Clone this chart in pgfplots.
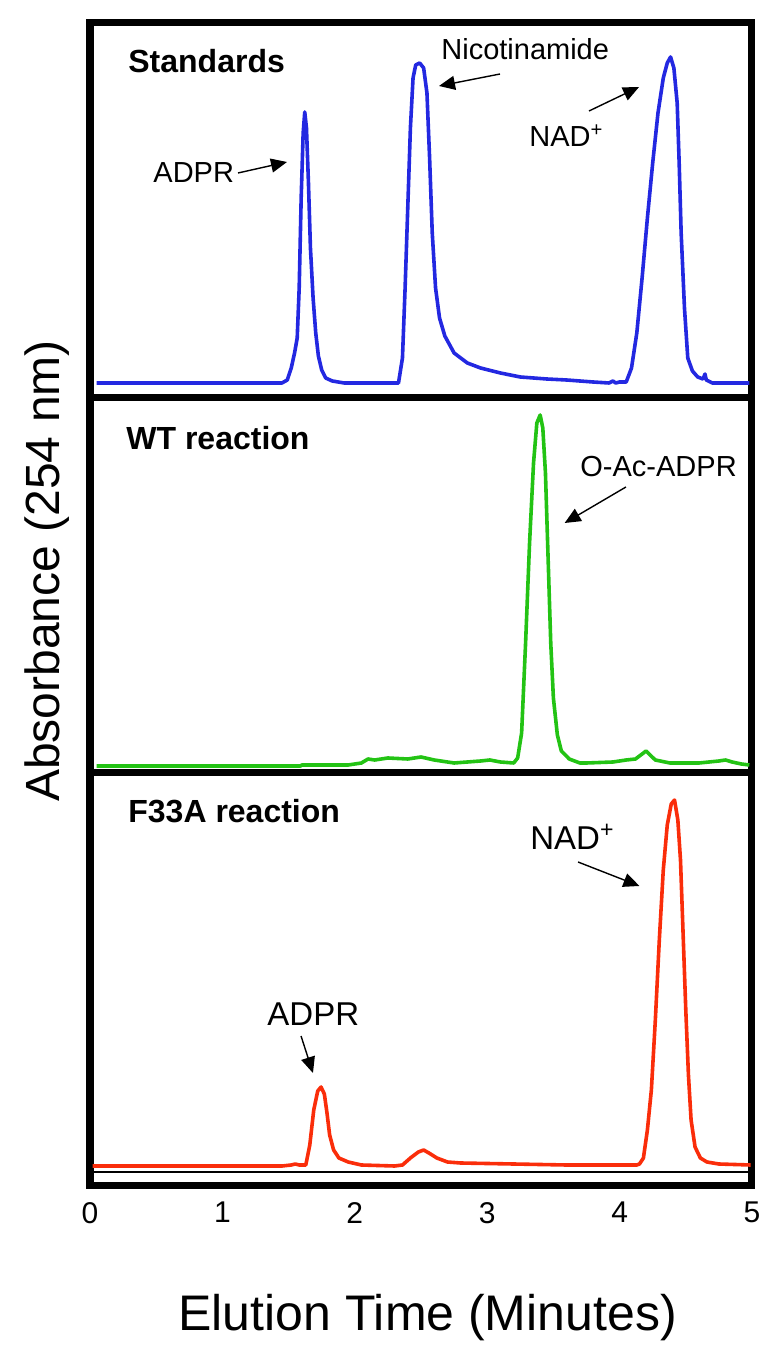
\documentclass[border=0pt]{standalone}
\usepackage{fontspec}
\setmainfont{Liberation Sans}
\usepackage{pgfplots}
\pgfplotsset{compat=1.18}
\usetikzlibrary{arrows.meta}
\definecolor{cblue}{RGB}{35,40,225}
\definecolor{cgreen}{RGB}{35,195,20}
\definecolor{cred}{RGB}{250,45,10}

\pgfplotsset{
  panel/.style={
    scale only axis, width=331pt,
    xmin=0, xmax=5, ymin=0,
    axis line style={line width=3.5pt},
    ytick=\empty, xtick=\empty,
    major tick length=0pt,
    clip=true,
  },
}
\tikzset{
  trace/.style={line width=1.8pt, line join=round},
  note/.style={font=\fontsize{14.5}{17}\selectfont, inner sep=0pt},
  ptitle/.style={font=\fontsize{16}{19}\selectfont\bfseries, inner sep=0pt},
  arr/.style={line width=0.7pt, -{Triangle[length=8pt,width=7pt]}},
}

\begin{document}
\begin{tikzpicture}
%% Standards
\begin{axis}[panel, at={(0,393.5pt)}, anchor=south west, height=187.5pt, ymax=375]
  \addplot[trace, cblue] coordinates {
    (0.05,15)(1.40,15)(1.45,15)(1.49,18)(1.52,30)(1.545,45)(1.565,60)(1.58,110)
    (1.595,200)(1.61,265)(1.622,286)(1.635,270)(1.65,215)(1.665,150)(1.685,100)
    (1.705,65)(1.725,42)(1.75,28)(1.78,20)(1.83,17)(1.92,15)
    (2.30,15)(2.33,15)(2.36,40)(2.38,110)(2.40,190)(2.42,270)(2.44,320)(2.46,333)
    (2.49,335)(2.52,330)(2.545,305)(2.565,240)(2.585,165)(2.61,110)(2.64,80)
    (2.68,62)(2.75,45)(2.85,35)(2.95,30)(3.10,25)(3.25,21)(3.45,19)(3.60,18)
    (3.80,16)(3.92,15)(3.95,17)(3.97,15)(4.00,16)
    (4.05,16)(4.09,30)(4.13,65)(4.17,120)(4.21,180)(4.25,235)(4.29,285)(4.33,320)
    (4.36,335)(4.385,341)(4.41,330)(4.435,295)(4.45,235)(4.465,165)(4.49,90)
    (4.515,40)(4.55,27)(4.59,21)(4.63,19)(4.645,24)(4.655,18)(4.70,15)(4.98,15)
  };
  \node[ptitle, anchor=base west] at (axis cs:0.287,325) {Standards};
  \node[note, anchor=base west] at (axis cs:2.651,338) {Nicotinamide};
  \draw[arr] (axis cs:3.097,324) -- (axis cs:2.636,312);
  \node[note, anchor=base west] at (axis cs:0.476,215) {ADPR};
  \draw[arr] (axis cs:1.118,225) -- (axis cs:1.488,236);
  \node[note, anchor=base west] at (axis cs:3.316,251) {NAD\textsuperscript{+}};
  \draw[arr] (axis cs:3.769,287) -- (axis cs:4.147,311);
\end{axis}

%% WT reaction
\begin{axis}[panel, at={(0,206pt)}, anchor=south west, height=187.5pt, ymax=375]
  \addplot[trace, cgreen] coordinates {
    (0.05,7)(1.59,7)(1.60,8)(1.95,8)(2.05,10)(2.10,14)(2.15,13)(2.25,15)(2.40,14)
    (2.50,16)(2.60,13)(2.75,10)(2.85,11)(2.95,12)(3.02,13)(3.10,11)(3.20,10)
    (3.23,15)(3.26,40)(3.29,130)(3.32,230)(3.35,310)(3.375,350)(3.40,358)
    (3.42,345)(3.44,300)(3.46,215)(3.48,130)(3.50,75)(3.53,38)(3.56,22)(3.62,14)
    (3.70,10)(3.75,10)(3.95,11)(4.05,13)(4.12,14)(4.17,19)(4.20,22)(4.23,18)
    (4.27,13)(4.38,10)(4.60,10)(4.75,12)(4.80,13)(4.85,11)(4.92,9)(4.98,8)
  };
  \node[ptitle, anchor=base west] at (axis cs:0.272,323) {WT reaction};
  \node[note, anchor=base west] at (axis cs:3.701,296) {O-Ac-ADPR};
  \draw[arr] (axis cs:4.048,286) -- (axis cs:3.585,250);
\end{axis}

%% F33A reaction
\begin{axis}[panel, at={(0,0)}, anchor=south west, height=206pt, ymax=412,
  xtick={0,1,2,3,4,5},
  /pgf/number format/assume math mode=true,
  xticklabel style={font=\fontsize{15}{18}\selectfont, yshift=-5pt},
  xlabel={Elution Time (Minutes)},
  xlabel style={font=\fontsize{25}{30}\selectfont, at={(axis description cs:0.51,0)},
    anchor=base, yshift=-72.5pt},
]
  \addplot[black, line width=0.7pt] coordinates {(0,13)(5,13)};
  \addplot[trace, cred] coordinates {
    (0.02,19)(1.45,19)(1.52,20)(1.55,21)(1.58,20)(1.62,20)
    (1.63,20)(1.66,40)(1.69,75)(1.72,94)(1.745,98)(1.77,91)(1.79,72)(1.81,50)
    (1.84,35)(1.88,27)(1.95,23)(2.05,20)(2.30,19)(2.36,20)
    (2.42,27)(2.48,33)(2.52,35)(2.56,32)(2.62,27)(2.70,23)(2.80,22)(3.20,21)
    (3.60,20)(4.13,20)(4.15,21)(4.18,27)(4.21,55)(4.24,95)(4.27,165)(4.30,245)
    (4.33,315)(4.36,360)(4.39,381)(4.415,385)(4.44,365)(4.46,325)(4.48,250)
    (4.50,175)(4.52,110)(4.54,65)(4.57,38)(4.61,27)(4.66,23)(4.75,21)(4.99,20)
  };
  \node[ptitle, anchor=base west] at (axis cs:0.287,362) {F33A reaction};
  \node[note, font=\fontsize{16.5}{19}\selectfont, anchor=base west] at (axis cs:3.323,335) {NAD\textsuperscript{+}};
  \draw[arr] (axis cs:3.686,323) -- (axis cs:4.150,299);
  \node[note, font=\fontsize{16.5}{19}\selectfont, anchor=base west] at (axis cs:1.337,160) {ADPR};
  \draw[arr] (axis cs:1.594,149) -- (axis cs:1.684,112);
\end{axis}

\node[rotate=90, font=\fontsize{24}{29}\selectfont, inner sep=0pt] at (-21.5pt,307pt) {Absorbance (254 nm)};

\pgfresetboundingbox
\useasboundingbox (-45pt,-82.5pt) rectangle (339pt,592.5pt);
\end{tikzpicture}
\end{document}
